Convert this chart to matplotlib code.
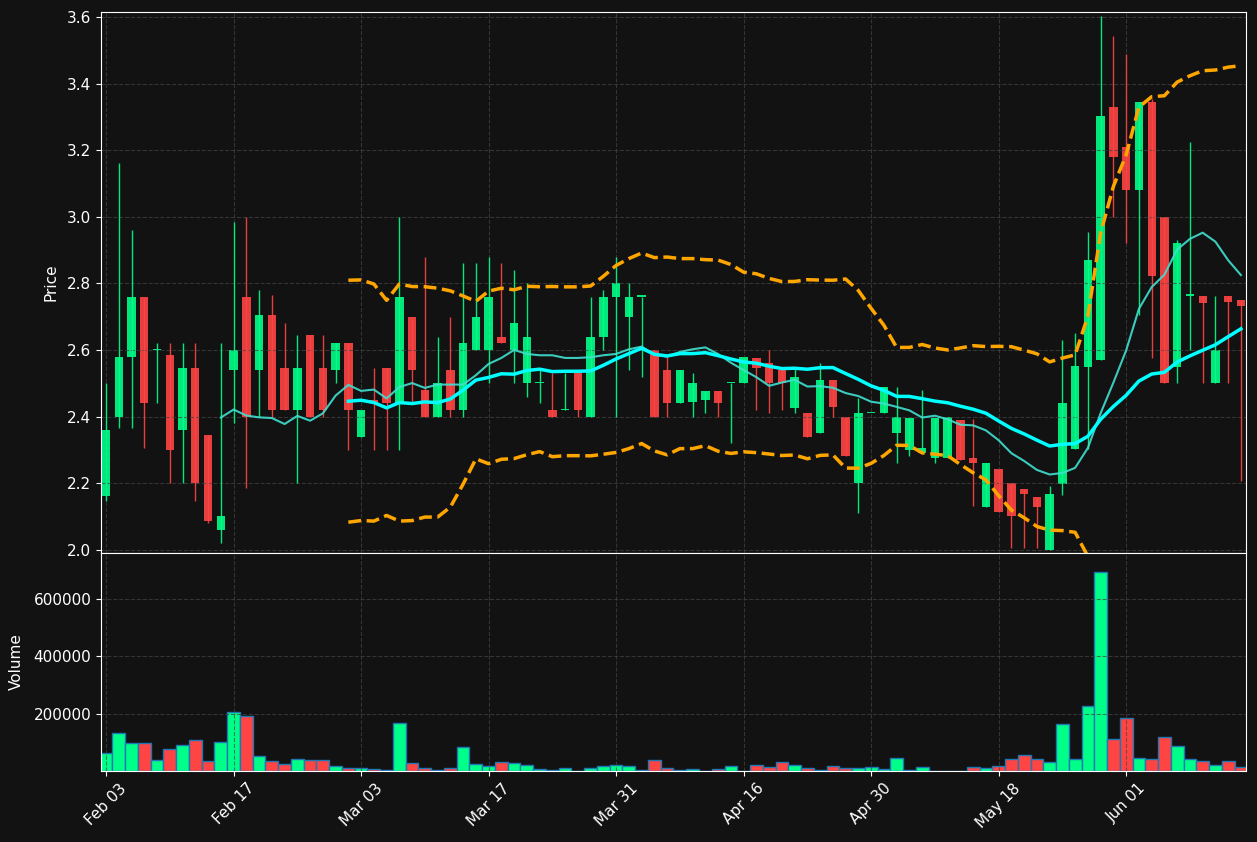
import numpy as np
import pandas as pd
import matplotlib
matplotlib.use("Agg")
import matplotlib.pyplot as plt

opens = [2.16, 2.40, 2.58, 2.76, 2.60, 2.585, 2.36, 2.545, 2.345, 2.06,
         2.54, 2.76, 2.54, 2.705, 2.545, 2.42, 2.645, 2.545, 2.54, 2.62,
         2.34, 2.45, 2.545, 2.44, 2.70, 2.48, 2.40, 2.54, 2.42, 2.60,
         2.60, 2.64, 2.60, 2.50, 2.50, 2.42, 2.42, 2.53, 2.40, 2.64,
         2.76, 2.70, 2.76, 2.60, 2.54, 2.44, 2.445, 2.45, 2.477, 2.50,
         2.50, 2.576, 2.56, 2.54, 2.425, 2.41, 2.35, 2.51, 2.40, 2.20,
         2.41, 2.41, 2.35, 2.30, 2.29, 2.275, 2.275, 2.39, 2.276, 2.127,
         2.243, 2.20, 2.183, 2.159, 2.00, 2.198, 2.303, 2.55, 2.569, 3.33,
         3.211, 3.08, 3.346, 3.00, 2.55, 2.763, 2.763, 2.50, 2.763, 2.75]
highs = [2.50, 3.16, 2.96, 2.76, 2.62, 2.62, 2.62, 2.62, 2.345, 2.62,
         2.985, 3.00, 2.78, 2.765, 2.68, 2.645, 2.645, 2.645, 2.62, 2.62,
         2.42, 2.545, 2.545, 3.00, 2.70, 2.88, 2.64, 2.70, 2.86, 2.86,
         2.88, 2.86, 2.84, 2.80, 2.54, 2.53, 2.53, 2.53, 2.76, 2.78,
         2.88, 2.80, 2.76, 2.60, 2.58, 2.54, 2.53, 2.477, 2.477, 2.50,
         2.58, 2.576, 2.60, 2.54, 2.545, 2.41, 2.56, 2.51, 2.40, 2.455,
         2.41, 2.49, 2.49, 2.395, 2.48, 2.395, 2.40, 2.39, 2.393, 2.26,
         2.243, 2.20, 2.183, 2.159, 2.19, 2.631, 2.652, 2.955, 3.602, 3.543,
         3.489, 3.346, 3.353, 3.00, 2.93, 3.224, 2.763, 2.763, 2.763, 2.75]
lows = [2.145, 2.365, 2.365, 2.305, 2.44, 2.20, 2.20, 2.145, 2.08, 2.02,
        2.38, 2.185, 2.40, 2.40, 2.42, 2.20, 2.40, 2.40, 2.50, 2.30,
        2.34, 2.30, 2.30, 2.30, 2.44, 2.40, 2.40, 2.40, 2.40, 2.60,
        2.50, 2.62, 2.50, 2.46, 2.44, 2.40, 2.42, 2.40, 2.40, 2.60,
        2.40, 2.54, 2.52, 2.40, 2.40, 2.44, 2.40, 2.41, 2.40, 2.32,
        2.50, 2.42, 2.41, 2.42, 2.41, 2.34, 2.35, 2.40, 2.28, 2.11,
        2.41, 2.41, 2.26, 2.28, 2.29, 2.26, 2.275, 2.27, 2.132, 2.127,
        2.113, 2.005, 2.005, 2.005, 2.00, 2.165, 2.303, 2.303, 2.569, 2.999,
        2.921, 2.704, 2.576, 2.50, 2.50, 2.60, 2.50, 2.50, 2.50, 2.207]
closes = [2.36, 2.58, 2.76, 2.44, 2.60, 2.30, 2.545, 2.20, 2.085, 2.10,
          2.60, 2.40, 2.705, 2.42, 2.42, 2.545, 2.40, 2.42, 2.62, 2.42,
          2.42, 2.44, 2.44, 2.76, 2.54, 2.40, 2.50, 2.42, 2.62, 2.70,
          2.76, 2.62, 2.68, 2.64, 2.50, 2.40, 2.42, 2.42, 2.64, 2.76,
          2.80, 2.76, 2.76, 2.40, 2.44, 2.54, 2.50, 2.477, 2.44, 2.50,
          2.58, 2.545, 2.50, 2.50, 2.52, 2.34, 2.51, 2.43, 2.28, 2.41,
          2.41, 2.49, 2.40, 2.395, 2.305, 2.395, 2.40, 2.27, 2.26, 2.26,
          2.113, 2.10, 2.167, 2.127, 2.167, 2.442, 2.553, 2.87, 3.302, 3.178,
          3.08, 3.346, 2.822, 2.50, 2.921, 2.763, 2.74, 2.60, 2.745, 2.733]
volumes = [62, 133, 98, 98, 38, 76, 91, 108, 34, 101,
           207, 193, 52, 34, 24, 41, 38, 38, 16, 9,
           9, 6, 2, 168, 27, 9, 2, 9, 84, 24,
           16, 31, 27, 20, 6, 2, 9, 1, 9, 16,
           20, 16, 2, 38, 9, 2, 6, 1, 6, 16,
           1, 20, 13, 31, 20, 9, 2, 16, 9, 9,
           13, 6, 45, 2, 13, 1, 1, 1, 13, 9,
           16, 41, 55, 41, 31, 165, 41, 228, 694, 110,
           186, 45, 41, 119, 87, 41, 34, 20, 34, 13]
volumes = [v * 1000 for v in volumes]
tick_labels = ["Feb 03", "Feb 17", "Mar 03", "Mar 17", "Mar 31",
               "Apr 16", "Apr 30", "May 18", "Jun 01"]

df = pd.DataFrame({"open": opens, "high": highs, "low": lows,
                   "close": closes, "volume": volumes})
df["sma10"] = df["close"].rolling(10).mean()
df["sma20"] = df["close"].rolling(20).mean()
std20 = df["close"].rolling(20).std()
df["upper"] = df["sma20"] + 2 * std20
df["lower"] = df["sma20"] - 2 * std20

bg = "#121212"
up_col = "#00ff88"
down_col = "#ff4444"

fig = plt.figure(figsize=(12.57, 8.42), dpi=100, facecolor=bg)
gs = fig.add_gridspec(2, 1, height_ratios=[540, 218], hspace=0,
                      left=101/1257, right=1246/1257, top=1-12/842, bottom=1-771/842)
ax = fig.add_subplot(gs[0])
axv = fig.add_subplot(gs[1], sharex=ax)

x = np.arange(len(df))
up = df["close"] >= df["open"]
colors = np.where(up, up_col, down_col)

ax.vlines(x, df["low"], df["high"], colors=colors, linewidth=1, alpha=0.9)
body_bottom = np.minimum(df["open"], df["close"])
body_h = np.maximum((df["close"] - df["open"]).abs(), 0.004)
ax.bar(x, body_h, bottom=body_bottom, width=0.65, color=colors, alpha=0.9)

ax.plot(x, df["sma10"], color="#40e0d0", linewidth=1.5, alpha=0.9)
ax.plot(x, df["sma20"], color="#00ffff", linewidth=2.5)
ax.plot(x, df["upper"], color="#ffa500", linewidth=2.5, linestyle="--")
ax.plot(x, df["lower"], color="#ffa500", linewidth=2.5, linestyle="--")

axv.bar(x, df["volume"], width=1.0, color=colors, edgecolor="#1f77b4", linewidth=1)

for a in (ax, axv):
    a.set_facecolor(bg)
    a.grid(True, linestyle="--", color="#444444", alpha=0.7)
    a.tick_params(colors="white", labelsize=11)
    for s in a.spines.values():
        s.set_color("white")

ax.set_ylim(1.991, 3.615)
ax.set_yticks(np.arange(2.0, 3.61, 0.2))
ax.set_ylabel("Price", color="white", fontsize=11)
ax.tick_params(labelbottom=False)

axv.set_ylim(0, 760000)
axv.set_yticks([200000, 400000, 600000])
axv.set_ylabel("Volume", color="white", fontsize=11)
axv.set_xlim(-0.4, 89.4)
axv.set_xticks(range(0, 81, 10))
axv.set_xticklabels(tick_labels, rotation=45)

ax.yaxis.set_label_coords(-0.037, 0.5)
axv.yaxis.set_label_coords(-0.067, 0.5)

fig.savefig("out.png", dpi=100, facecolor=bg)
